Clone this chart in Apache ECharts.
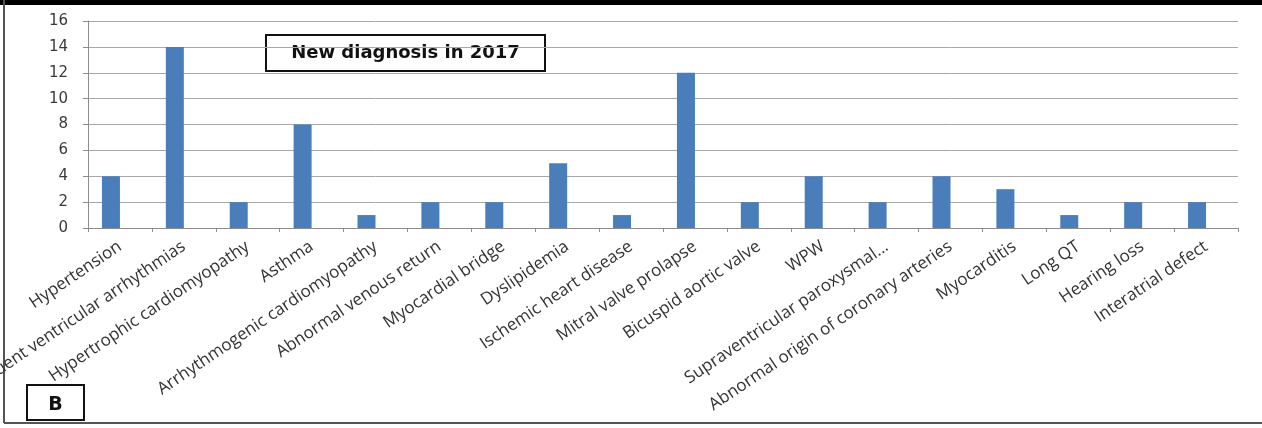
<!DOCTYPE html>
<html>
<head>
<meta charset="utf-8">
<script src="https://cdn.jsdelivr.net/npm/echarts@6/dist/echarts.min.js"></script>
<style>
  html, body { margin: 0; padding: 0; background: #fff; }
  #chart { width: 1262px; height: 428px; }
</style>
</head>
<body>
<div id="chart"></div>
<script>
// categories and counts
const diagnoses = [
  "Hypertension",
  "Frequent ventricular arrhythmias",
  "Hypertrophic cardiomyopathy",
  "Asthma",
  "Arrhythmogenic cardiomyopathy",
  "Abnormal venous return",
  "Myocardial bridge",
  "Dyslipidemia",
  "Ischemic heart disease",
  "Mitral valve prolapse",
  "Bicuspid aortic valve",
  "WPW",
  "Supraventricular paroxysmal...",
  "Abnormal origin of coronary arteries",
  "Myocarditis",
  "Long QT",
  "Hearing loss",
  "Interatrial defect"
];
const counts2017 = [4, 14, 2, 8, 1, 2, 2, 5, 1, 12, 2, 4, 2, 4, 3, 1, 2, 2];
// the original is a clustered chart whose second series is empty,
// so the bars sit in the left half of each category
const emptySeries = [];
const boxTitle = "New diagnosis in 2017";
const panelLetter = "B";

const myChart = echarts.init(document.getElementById("chart"));

const option = {
  animation: false,
  backgroundColor: "#fff",
  grid: {
    left: 88, right: 24, top: 21, bottom: 200,
    containLabel: false,
    outerBoundsMode: "none"
  },
  xAxis: {
    type: "category",
    data: diagnoses,
    axisLine: { lineStyle: { color: "#8c8c8c" } },
    axisTick: { show: true, length: 4, lineStyle: { color: "#8c8c8c" } },
    axisLabel: {
      interval: 0,
      rotate: 34,
      margin: 17,
      color: "#333",
      fontFamily: "Open Sans",
      fontSize: 17
    }
  },
  yAxis: {
    type: "value",
    min: 0,
    max: 16,
    interval: 2,
    axisLine: { show: true, lineStyle: { color: "#8c8c8c" } },
    axisTick: { show: true, length: 5, lineStyle: { color: "#8c8c8c" } },
    axisLabel: { color: "#3a3a3a", fontFamily: "DejaVu Sans", fontSize: 15, margin: 20 },
    splitLine: { lineStyle: { color: "#a8a8a8", width: 1 } }
  },
  series: [
    {
      name: "2017",
      type: "bar",
      data: counts2017,
      barWidth: 18,
      barGap: 0,
      itemStyle: { color: "#4a7ebb" }
    },
    {
      name: "other",
      type: "bar",
      data: emptySeries,
      barWidth: 18,
      barGap: 0
    }
  ],
  graphic: [
    // black band at the top of the frame
    { type: "rect", left: 0, top: 0, shape: { width: 1262, height: 5 }, style: { fill: "#000" } },
    // outer frame
    { type: "line", shape: { x1: 4, y1: 0, x2: 4, y2: 423 }, style: { stroke: "#555", lineWidth: 2 } },
    { type: "line", shape: { x1: 4, y1: 423, x2: 1262, y2: 423 }, style: { stroke: "#555", lineWidth: 2 } },
    // title box
    {
      type: "group",
      left: 265,
      top: 34,
      children: [
        { type: "rect", shape: { x: 0, y: 0, width: 279, height: 36 }, style: { fill: "#fff", stroke: "#111", lineWidth: 2 } },
        {
          type: "text",
          x: 139.5,
          y: 18,
          style: {
            text: boxTitle,
            fill: "#111",
            font: "bold 18px 'DejaVu Sans'",
            align: "center",
            verticalAlign: "middle"
          }
        }
      ]
    },
    // panel letter box
    {
      type: "group",
      left: 26,
      top: 384,
      children: [
        { type: "rect", shape: { x: 0, y: 0, width: 57, height: 35 }, style: { fill: "#fff", stroke: "#111", lineWidth: 2 } },
        {
          type: "text",
          x: 28.5,
          y: 20,
          style: {
            text: panelLetter,
            fill: "#111",
            font: "bold 19px 'DejaVu Sans'",
            align: "center",
            verticalAlign: "middle"
          }
        }
      ]
    }
  ]
};

myChart.setOption(option);
</script>
</body>
</html>
